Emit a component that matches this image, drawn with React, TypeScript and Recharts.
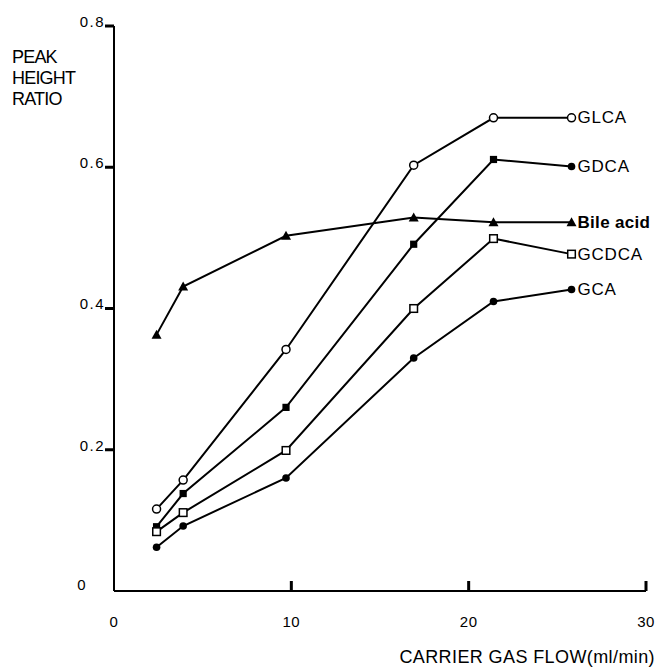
import React from 'react';
import { LineChart, Line, XAxis, YAxis } from 'recharts';

// carrier gas flow (ml/min), shared by all series
const flow = [2.4, 3.9, 9.7, 16.9, 21.4, 25.8];

const glca = [0.116, 0.157, 0.342, 0.603, 0.67, 0.67];
const gdca = [0.091, 0.138, 0.26, 0.491, 0.611, 0.601];
const bileAcid = [0.363, 0.431, 0.503, 0.529, 0.522, 0.522];
const gcdca = [0.084, 0.111, 0.199, 0.4, 0.499, 0.477];
const gca = [0.062, 0.092, 0.16, 0.33, 0.41, 0.427];

const xTicks = [0, 10, 20, 30];
const yTicks = [0, 0.2, 0.4, 0.6, 0.8];

const rows = flow.map((x, i) => ({
  x,
  glca: glca[i],
  gdca: gdca[i],
  bile: bileAcid[i],
  gcdca: gcdca[i],
  gca: gca[i],
}));

type Marker = 'circleOpen' | 'circleFilled' | 'squareOpen' | 'squareFilled' | 'triangle';

const series: { key: string; name: string; marker: Marker; bold?: boolean }[] = [
  { key: 'glca', name: 'GLCA', marker: 'circleOpen' },
  { key: 'gdca', name: 'GDCA', marker: 'squareFilled' },
  { key: 'bile', name: 'Bile acid', marker: 'triangle', bold: true },
  { key: 'gcdca', name: 'GCDCA', marker: 'squareOpen' },
  { key: 'gca', name: 'GCA', marker: 'circleFilled' },
];

const FONT = '"Liberation Sans", Arial, Helvetica, sans-serif';
const last = flow.length - 1;

const drawMarker = (marker: Marker, cx: number, cy: number, k: string) => {
  switch (marker) {
    case 'circleOpen':
      return <circle key={k} cx={cx} cy={cy} r={4} fill="#fff" stroke="#000" strokeWidth={1.5} />;
    case 'circleFilled':
      return <circle key={k} cx={cx} cy={cy} r={3.8} fill="#000" />;
    case 'squareOpen':
      return <rect key={k} x={cx - 3.8} y={cy - 3.8} width={7.6} height={7.6} fill="#fff" stroke="#000" strokeWidth={1.5} />;
    case 'squareFilled':
      return <rect key={k} x={cx - 3.6} y={cy - 3.6} width={7.2} height={7.2} fill="#000" />;
    default:
      return <polygon key={k} points={`${cx},${cy - 5} ${cx + 5},${cy + 4} ${cx - 5},${cy + 4}`} fill="#000" />;
  }
};

// x axis: tick mark drawn upward from the axis line inside the tick group
const XTick = (props: any) => {
  const { x, y, payload } = props;
  return (
    <g>
      {payload.value !== 0 && <rect x={x - 1.5} y={y - 10} width={3} height={10} fill="#000" />}
      <text x={x} y={y + 32} textAnchor="middle" dominantBaseline="middle" fontFamily={FONT} fontSize={15} letterSpacing={0.5} fill="#000">
        {payload.value}
      </text>
    </g>
  );
};

const YTick = (props: any) => {
  const { x, y, payload } = props;
  const zero = payload.value === 0;
  return (
    <g>
      {!zero && <rect x={x - 9} y={y - 1.5} width={9} height={3} fill="#000" />}
      <text
        x={zero ? x - 27 : x - 9}
        y={zero ? y - 5 : y - 3}
        textAnchor="end"
        dominantBaseline="middle"
        fontFamily={FONT}
        fontSize={15}
        letterSpacing={1.5}
        fill="#000"
      >
        {zero ? '0' : payload.value.toFixed(1)}
      </text>
    </g>
  );
};

export default function App() {
  return (
    <div style={{ position: 'absolute', left: 0, top: 0, width: 662, height: 668, background: '#fff' }}>
      <LineChart width={662} height={668} data={rows} margin={{ top: 26, right: 16, bottom: 37, left: 54 }}>
        <XAxis
          type="number"
          dataKey="x"
          domain={[0, 30]}
          ticks={xTicks}
          height={40}
          tickSize={0}
          tickMargin={0}
          tickLine={false}
          axisLine={{ stroke: '#000', strokeWidth: 2 }}
          tick={XTick}
        />
        <YAxis
          type="number"
          domain={[0, 0.8]}
          ticks={yTicks}
          width={60}
          tickSize={0}
          tickMargin={0}
          tickLine={false}
          axisLine={{ stroke: '#000', strokeWidth: 2 }}
          tick={YTick}
        />
        {series.map((s) => (
          <Line
            key={s.key}
            dataKey={s.key}
            stroke="#000"
            strokeWidth={2}
            isAnimationActive={false}
            dot={(p: any) => {
              const m: Marker = s.key === 'gdca' && p.index === last ? 'circleFilled' : s.marker;
              return drawMarker(m, p.cx, p.cy, `${s.key}-${p.index}`);
            }}
            label={(p: any) =>
              p.index === last ? (
                <text
                  key={`${s.key}-lab`}
                  x={p.x + 6}
                  y={p.y + 1}
                  dominantBaseline="middle"
                  fontFamily={FONT}
                  fontSize={17}
                  letterSpacing={s.bold ? 0.3 : 0.8}
                  fontWeight={s.bold ? 'bold' : 'normal'}
                  fill="#000"
                >
                  {s.name}
                </text>
              ) : (
                <g key={`${s.key}-lab-${p.index}`} />
              )
            }
          />
        ))}
      </LineChart>
      <svg width={662} height={668} style={{ position: 'absolute', left: 0, top: 0, pointerEvents: 'none' }}>
        <text fontFamily={FONT} fontSize={18} letterSpacing={-0.8} fill="#000">
          <tspan x={12} y={63}>PEAK</tspan>
          <tspan x={12} y={84}>HEIGHT</tspan>
          <tspan x={12} y={105}>RATIO</tspan>
        </text>
        <text x={655} y={663} textAnchor="end" fontFamily={FONT} fontSize={18} letterSpacing={0.4} fill="#000">
          CARRIER GAS FLOW(ml/min)
        </text>
      </svg>
    </div>
  );
}
